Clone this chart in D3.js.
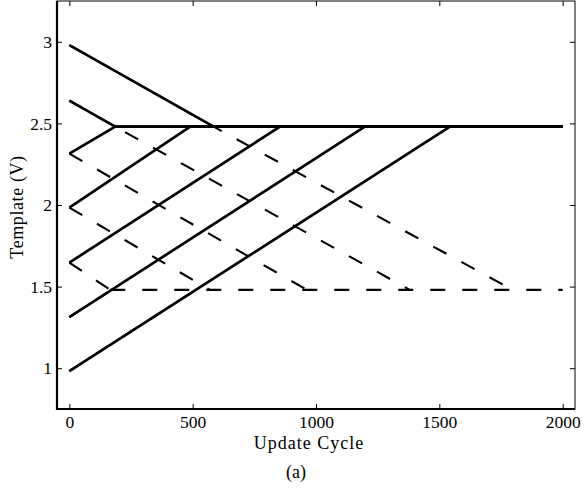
<!DOCTYPE html>
<html>
<head>
<meta charset="utf-8">
<script src="https://cdn.jsdelivr.net/npm/d3@7"></script>
<style>
  body { margin: 0; background: #fff; }
  text { font-family: "Liberation Serif", "Times New Roman", serif; fill: #000; }
</style>
</head>
<body>
<script>
// template voltage starting points (V) for the seven runs
var startValues = [2.98, 2.64, 2.315, 1.984, 1.647, 1.313, 0.982];
// update cycle where the upper template (solid) settles at 2.48 V
var upperSettle = [585, 186, 186, 490, 854, 1198, 1543];
// update cycle where the lower template (dashed) settles at 1.48 V
var lowerSettle = [1797, 1380, 963, 570, 166, 171, 513];
var upperLevel = 2.48,
    lowerLevel = 1.48,
    lastCycle = 2000;

var xTicks = [0, 500, 1000, 1500, 2000];
var yTicks = [1, 1.5, 2, 2.5, 3];

var margin = { top: 1, right: 9, bottom: 84, left: 57 },
    width = 584 - margin.left - margin.right,
    height = 493 - margin.top - margin.bottom;

var x = d3.scaleLinear().domain([-50, 2050]).range([0, width]);
var y = d3.scaleLinear().domain([0.75, 3.25]).range([height, 0]);

var svg = d3.select("body").append("svg")
    .attr("width", 584)
    .attr("height", 493)
    .append("g")
    .attr("transform", "translate(" + margin.left + "," + margin.top + ")");

var line = d3.line()
    .x(function (d) { return x(d[0]); })
    .y(function (d) { return y(d[1]); });

// dashed: lower template ramps (they run under the solid line while both move together)
var ramps = startValues.map(function (s, i) {
    if (s > upperLevel) {
        return [[0, s], [upperSettle[i], upperLevel], [lowerSettle[i], lowerLevel]];
    }
    return [[0, s], [lowerSettle[i], lowerLevel]];
});
svg.selectAll(".ramp")
    .data(ramps)
    .enter().append("path")
    .attr("class", "ramp")
    .attr("d", line)
    .attr("fill", "none")
    .attr("stroke", "#000")
    .attr("stroke-width", 2.1)
    .attr("stroke-dasharray", "15,17");

// shared flat part of the lower template
svg.append("path")
    .attr("d", line([[d3.min(lowerSettle), lowerLevel], [lastCycle, lowerLevel]]))
    .attr("fill", "none")
    .attr("stroke", "#000")
    .attr("stroke-width", 2.1)
    .attr("stroke-dasharray", "15,17");

// solid: upper template runs
var runs = startValues.map(function (s, i) {
    return [[0, s], [upperSettle[i], upperLevel], [lastCycle, upperLevel]];
});
svg.selectAll(".run")
    .data(runs)
    .enter().append("path")
    .attr("class", "run")
    .attr("d", line)
    .attr("fill", "none")
    .attr("stroke", "#000")
    .attr("stroke-width", 2.7)
    .attr("stroke-linejoin", "round");

// frame with inward ticks (matlab style)
var xAxis = d3.axisBottom(x).tickValues(xTicks).tickSizeInner(-5).tickSizeOuter(0).tickPadding(7)
    .tickFormat(d3.format("d"));
var yAxis = d3.axisLeft(y).tickValues(yTicks).tickSizeInner(-5).tickSizeOuter(0).tickPadding(5)
    .tickFormat(d3.format("~g"));

svg.append("g")
    .attr("transform", "translate(0," + height + ")")
    .call(xAxis);
svg.append("g").call(yAxis);

svg.append("g")
    .call(d3.axisTop(x).tickValues(xTicks).tickSizeInner(-5).tickSizeOuter(0).tickFormat(""));
svg.append("g")
    .attr("transform", "translate(" + width + ",0)")
    .call(d3.axisRight(y).tickValues(yTicks).tickSizeInner(-5).tickSizeOuter(0).tickFormat(""));

svg.selectAll(".domain").remove();
svg.selectAll(".tick line").attr("stroke", "#000").attr("stroke-width", 1);
svg.selectAll(".tick text")
    .attr("fill", "#000")
    .style("font-size", "17.5px")
    .style("font-family", "Liberation Serif, serif");

svg.append("rect")
    .attr("width", width)
    .attr("height", height)
    .attr("fill", "none")
    .attr("stroke", "#000")
    .attr("stroke-width", 1);
svg.append("path")
    .attr("d", "M0,0V" + height + "H" + width)
    .attr("fill", "none")
    .attr("stroke", "#000")
    .attr("stroke-width", 2.2);

svg.append("text")
    .attr("x", 252)
    .attr("y", 448)
    .attr("text-anchor", "middle")
    .style("font-size", "18px")
    .style("letter-spacing", "1px")
    .text("Update Cycle");

svg.append("text")
    .attr("x", 239)
    .attr("y", 477)
    .attr("text-anchor", "middle")
    .style("font-size", "18px")
    .text("(a)");

svg.append("text")
    .attr("transform", "translate(" + (23 - margin.left) + "," + 206 + ") rotate(-90)")
    .attr("text-anchor", "middle")
    .style("font-size", "18px")
    .style("letter-spacing", "0.6px")
    .text("Template (V)");
</script>
</body>
</html>
